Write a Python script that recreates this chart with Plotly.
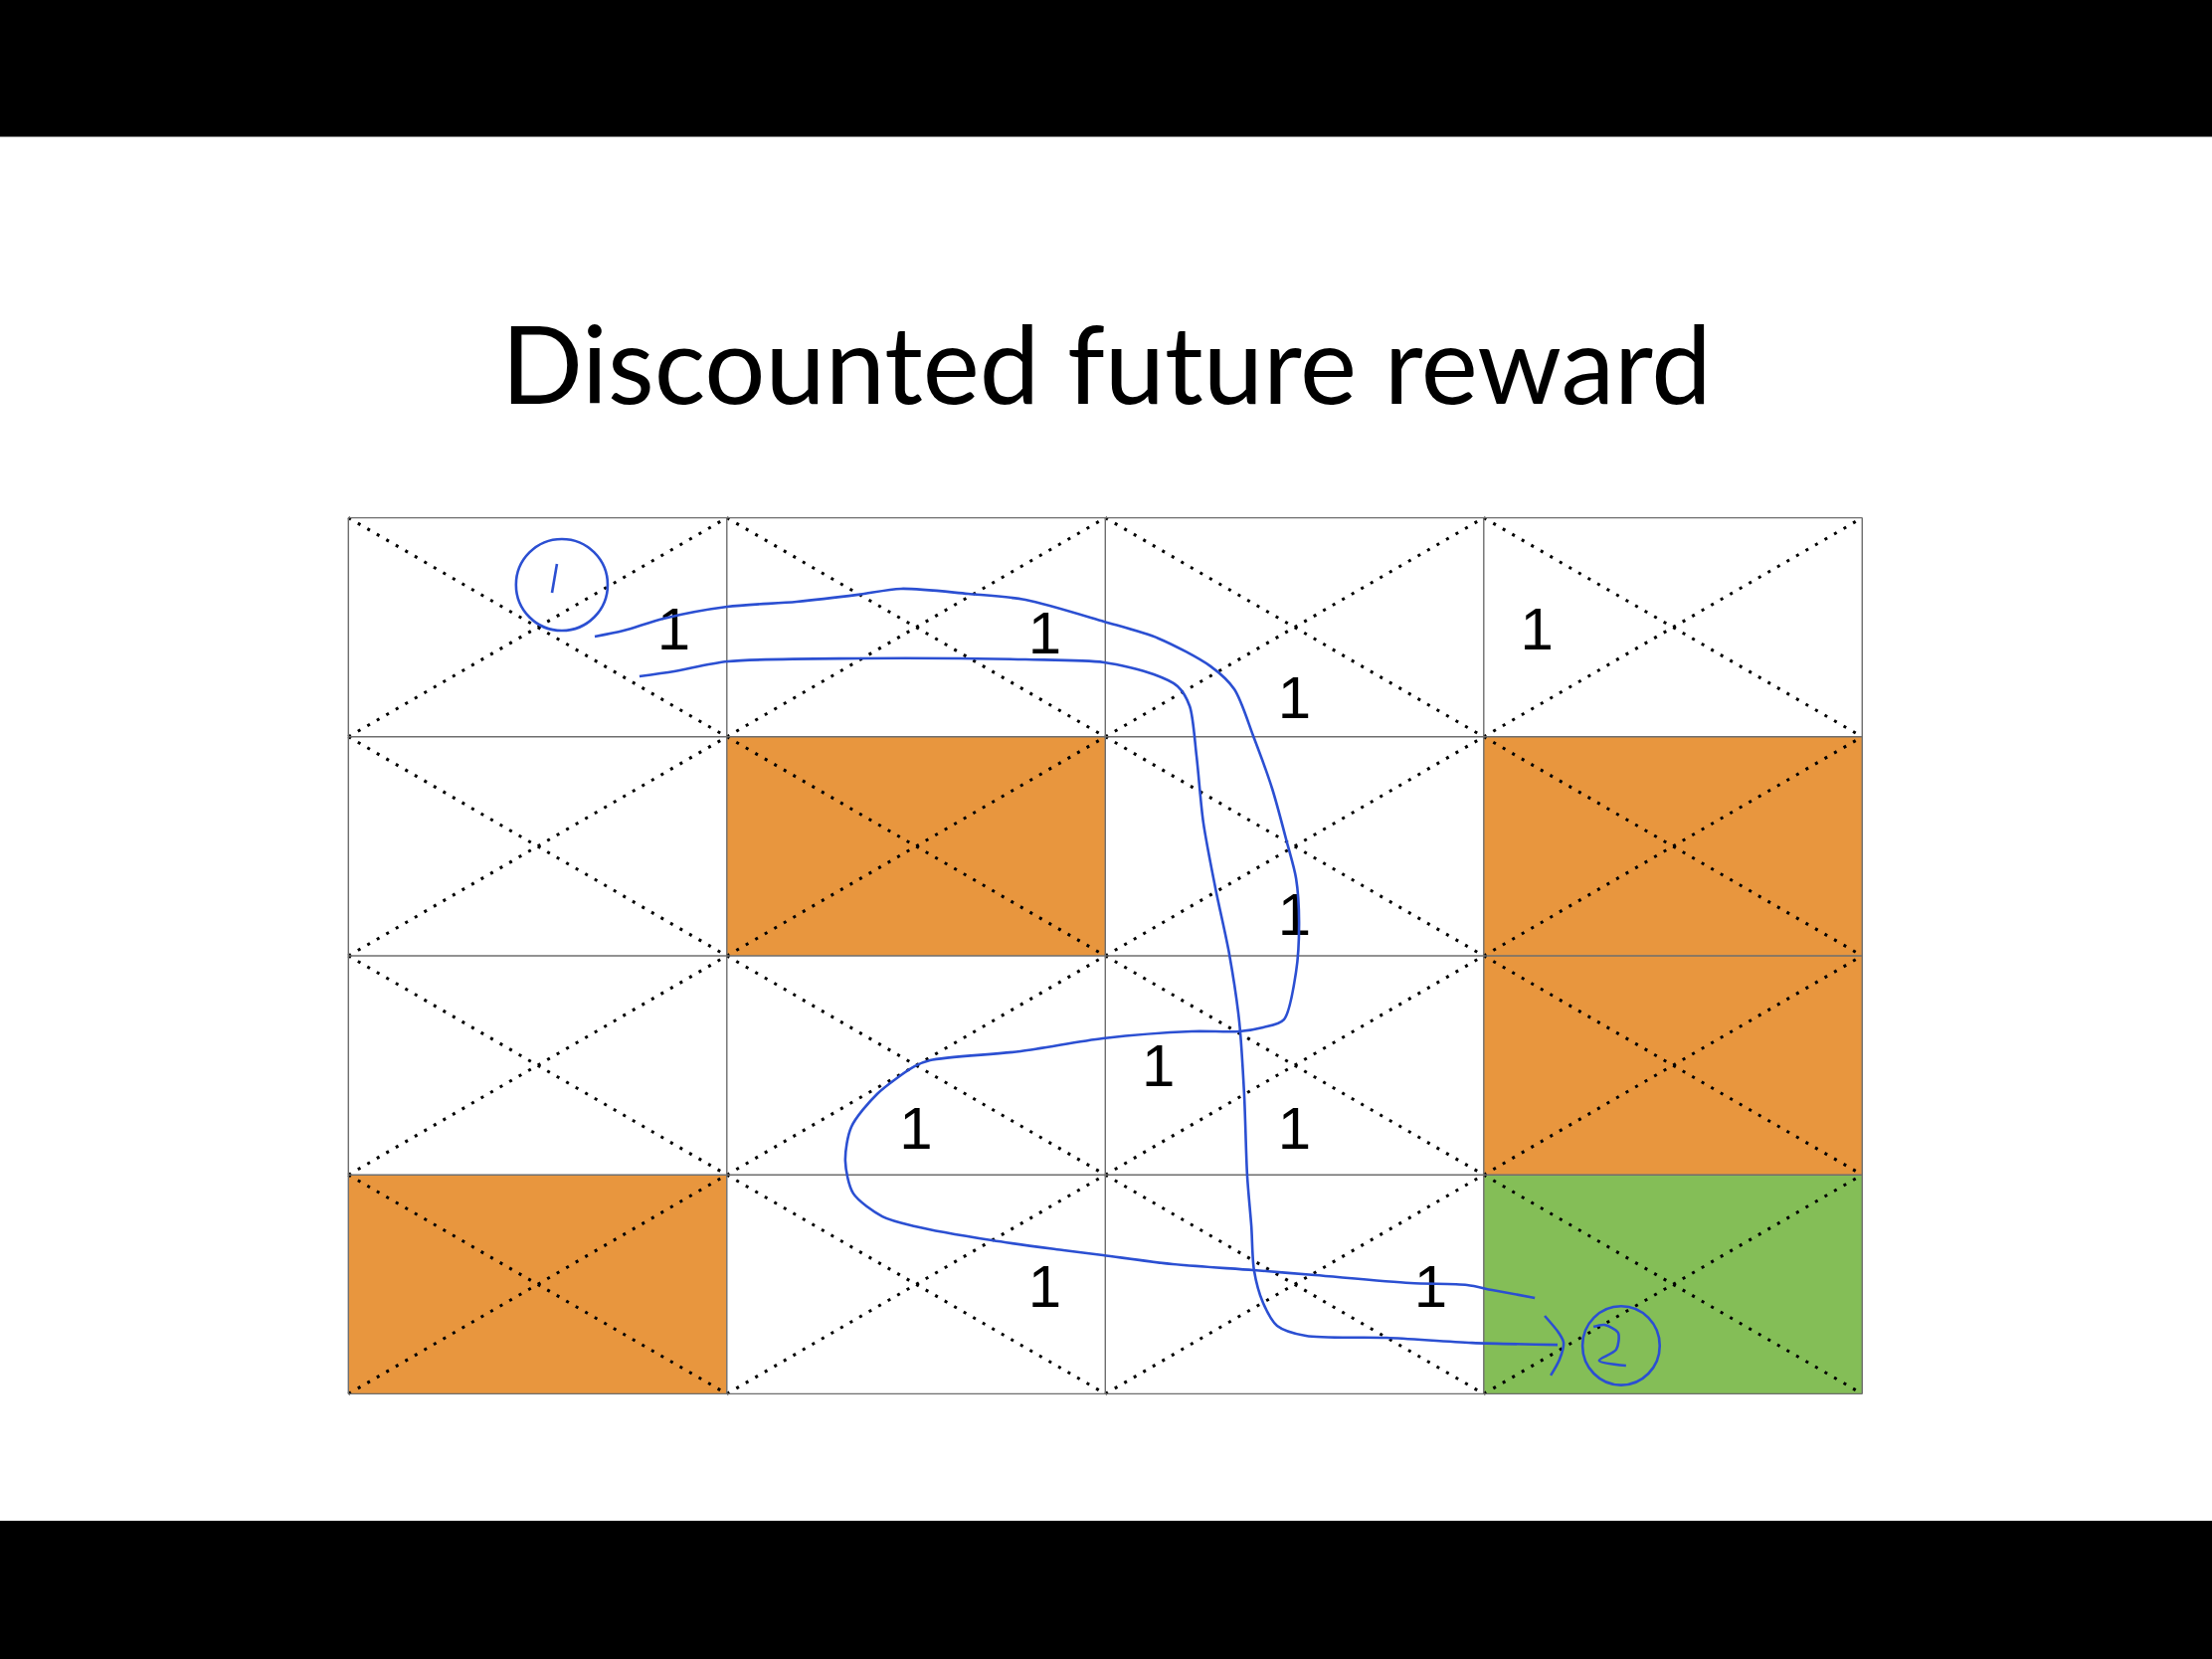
import plotly.graph_objects as go

# grid world: rows listed top to bottom, 4 x 4 cells
cell_kind = [
    ["empty", "empty", "empty", "empty"],
    ["empty", "wall", "empty", "wall"],
    ["empty", "empty", "empty", "wall"],
    ["wall", "empty", "empty", "goal"],
]
n_rows = len(cell_kind)
n_cols = len(cell_kind[0])

# reward labels, in grid units (x: columns from left, y: rows from bottom)
label_x = [0.86, 1.84, 2.50, 3.14, 2.50, 2.14, 1.50, 2.50, 1.84, 2.86]
label_y = [3.465, 3.45, 3.155, 3.465, 2.165, 1.475, 1.185, 1.185, 0.465, 0.465]
label_text = ["1"] * len(label_x)

# hand drawn pen strokes (grid units)
path_a_x = [0.651, 0.727, 0.832, 1.001, 1.184, 1.347, 1.460, 1.637, 1.789, 1.997, 2.141,
            2.278, 2.341, 2.391, 2.441, 2.480, 2.504, 2.512, 2.504, 2.472, 2.417, 2.354,
            2.228, 1.994, 1.776, 1.537, 1.497, 1.397, 1.329, 1.313, 1.334, 1.411, 1.497,
            1.700, 1.889, 1.994, 2.178, 2.391, 2.554, 2.806, 2.956, 3.022, 3.135]
path_a_y = [3.458, 3.485, 3.540, 3.594, 3.617, 3.649, 3.676, 3.653, 3.626, 3.526, 3.449,
            3.322, 3.217, 3.004, 2.763, 2.518, 2.354, 2.154, 1.927, 1.709, 1.673, 1.655,
            1.655, 1.623, 1.564, 1.523, 1.496, 1.369, 1.219, 1.064, 0.915, 0.810, 0.765,
            0.701, 0.656, 0.633, 0.592, 0.565, 0.542, 0.506, 0.497, 0.474, 0.438]

path_b_x = [0.769, 0.861, 1.003, 1.347, 1.789, 1.997, 2.128, 2.191, 2.223, 2.241, 2.259,
            2.291, 2.328, 2.354, 2.367, 2.375, 2.386, 2.393, 2.417, 2.454, 2.530, 2.743,
            2.969, 3.195]
path_b_y = [3.276, 3.299, 3.344, 3.358, 3.353, 3.340, 3.285, 3.231, 3.140, 2.913, 2.609,
            2.309, 2.005, 1.700, 1.369, 0.996, 0.765, 0.565, 0.415, 0.311, 0.265, 0.256,
            0.233, 0.224]

arrow_x = [3.161, 3.198, 3.211, 3.200, 3.177]
arrow_y = [0.356, 0.279, 0.233, 0.156, 0.084]

one_x = [0.551, 0.538]
one_y = [3.789, 3.658]

two_x = [3.290, 3.319, 3.355, 3.350, 3.305, 3.376]
two_y = [0.306, 0.315, 0.279, 0.202, 0.152, 0.129]

# circled step numbers: x0, x1, y0, y1
circle_bounds = [
    (0.443, 0.685, 3.485, 3.903),
    (3.261, 3.465, 0.040, 0.400),
]

fill_colors = {"empty": "white", "wall": "#E8963E", "goal": "#84BE57"}
pen_blue = "#2B4FD2"

fig = go.Figure()
shapes = []

for r, row in enumerate(cell_kind):
    for c, kind in enumerate(row):
        y0 = n_rows - r - 1
        shapes.append(dict(type="rect", xref="x", yref="y", x0=c, x1=c + 1, y0=y0, y1=y0 + 1,
                           fillcolor=fill_colors[kind], line=dict(width=0), layer="below"))

# dotted X in every cell
for r in range(n_rows):
    for c in range(n_cols):
        y0 = n_rows - r - 1
        for (xa, ya, xb, yb) in [(c, y0 + 1, c + 1, y0), (c, y0, c + 1, y0 + 1)]:
            shapes.append(dict(type="line", xref="x", yref="y", x0=xa, y0=ya, x1=xb, y1=yb,
                               line=dict(color="black", width=3, dash="3px,8px"), layer="below"))

# solid grid lines
for c in range(n_cols + 1):
    shapes.append(dict(type="line", xref="x", yref="y", x0=c, x1=c, y0=0, y1=n_rows,
                       line=dict(color="#6e6e6e", width=1.4), layer="below"))
for r in range(n_rows + 1):
    shapes.append(dict(type="line", xref="x", yref="y", x0=0, x1=n_cols, y0=r, y1=r,
                       line=dict(color="#6e6e6e", width=1.4), layer="below"))

for (x0, x1, y0, y1) in circle_bounds:
    shapes.append(dict(type="circle", xref="x", yref="y", x0=x0, x1=x1, y0=y0, y1=y1,
                       line=dict(color=pen_blue, width=2.6)))

# black letterbox bars
shapes.append(dict(type="rect", xref="paper", yref="paper", x0=0, x1=1, y0=0.9175, y1=1,
                   fillcolor="black", line=dict(width=0)))
shapes.append(dict(type="rect", xref="paper", yref="paper", x0=0, x1=1, y0=0, y1=0.0833,
                   fillcolor="black", line=dict(width=0)))

fig.add_trace(go.Scatter(x=label_x, y=label_y, text=label_text, mode="text",
                         textposition="middle center",
                         textfont=dict(family="Liberation Sans, Arial, Helvetica, sans-serif",
                                       size=60, color="black"),
                         hoverinfo="skip"))

for xs, ys in [(path_a_x, path_a_y), (path_b_x, path_b_y), (arrow_x, arrow_y),
               (one_x, one_y), (two_x, two_y)]:
    fig.add_trace(go.Scatter(x=xs, y=ys, mode="lines",
                             line=dict(color=pen_blue, width=2.6, shape="spline", smoothing=0.8),
                             hoverinfo="skip"))

fig.add_annotation(text="Discounted future reward", xref="paper", yref="paper",
                   x=0.5, y=1 - 364 / 1668, xanchor="center", yanchor="middle",
                   showarrow=False, font=dict(family="Lato", size=108, color="black"))

fig.update_layout(
    width=2224, height=1668,
    margin=dict(l=0, r=0, t=0, b=0),
    paper_bgcolor="white", plot_bgcolor="white",
    showlegend=False,
    shapes=shapes,
    xaxis=dict(range=[-0.9206, 4.9243], visible=False, fixedrange=True),
    yaxis=dict(range=[-1.2107, 6.3642], visible=False, fixedrange=True),
)

# drop the default page margin so the figure sits at the window corner
fig.write_html("out.html", config={"displayModeBar": False},
               post_script="document.body.style.margin = '0';")
